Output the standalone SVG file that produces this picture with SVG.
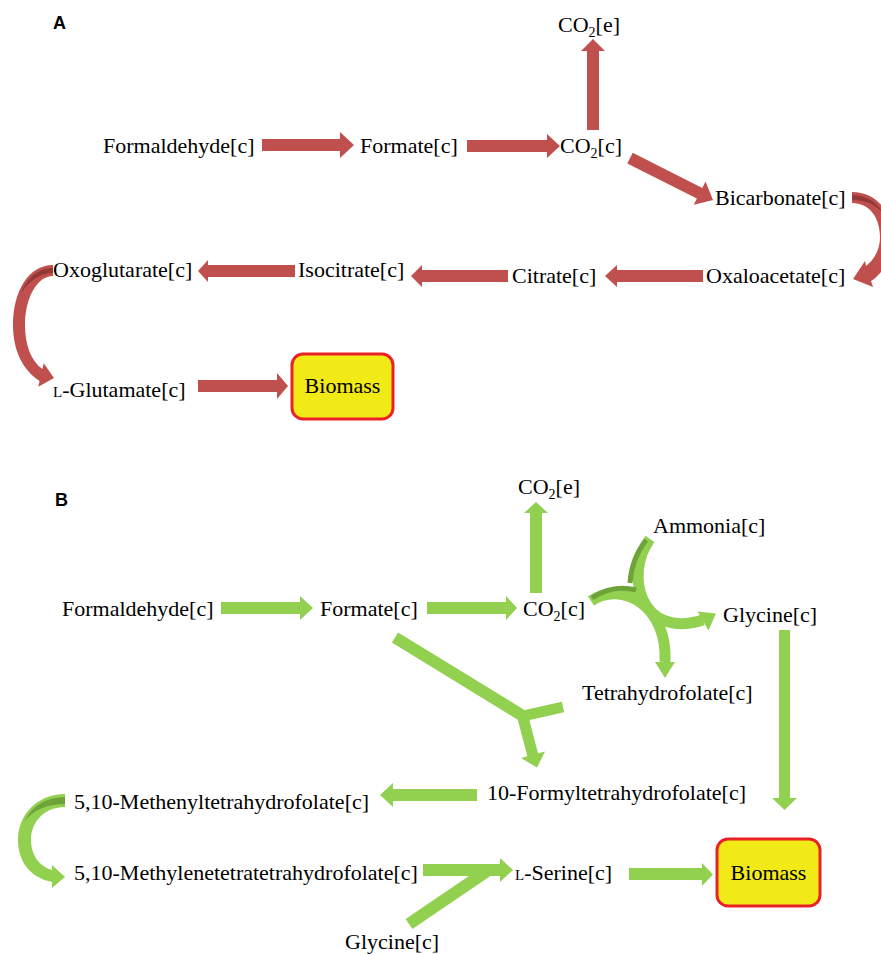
<svg xmlns="http://www.w3.org/2000/svg" width="881" height="954" viewBox="0 0 881 954">
<style>
.t{font-family:"Liberation Serif","Times New Roman",serif;font-size:22px;fill:#000}
.sc{font-size:15px}
.sub{font-size:14px}
.lbl{font-family:"Liberation Sans",Arial,sans-serif;font-size:18px;font-weight:bold;fill:#000}
.ra{fill:#c0504d}
.rd{fill:#933a37}
.ga{fill:#92d050}
.gd{fill:#6ea33a}
.gs{fill:none;stroke:#92d050;stroke-width:12}
.gsd{fill:none;stroke:#6ea33a;stroke-width:5}
.box{fill:#f2ea17;stroke:#ea2227;stroke-width:3}
</style>
<rect width="881" height="954" fill="#fff"/>
<text class="lbl" x="53" y="29">A</text>
<text class="lbl" x="55" y="506">B</text>

<g id="connectors">
  <!-- Panel A -->
  <path class="ra" d="M262,139 H340 V132 L354,145 L340,158 V151 H262 Z"/>
  <path class="ra" d="M467,140 H547 V134 L560,146 L547,158 V152 H467 Z"/>
  <path class="ra" d="M587,130 V51 H581 L593,39 L605,51 H599 V130 Z"/>
  <path class="ra" d="M632.7,152.7 L702.3,187.9 L705.5,181.6 L713,200 L693.7,204.8 L696.9,198.6 L627.3,163.4 Z"/>
  <path class="ra" d="M852,192 C877,192 892,212 892,237 C892,259 883,273 871,281 L873,287 L853,279 L865,261 L866,266 C875,259 880,249 880,237 C880,217 869,203 852,203 Z"/>
  <path class="rd" d="M852,195 C866,195 877,202 884,214 C876,205 865,200 852,200 Z"/>
  <path class="ra" d="M703,270 H617 V265 L605,276 L617,287 V282 H703 Z"/>
  <path class="ra" d="M508,270 H422 V265 L411,276 L422,287 V282 H508 Z"/>
  <path class="ra" d="M295,265 H208 V260 L198,271 L208,282 V277 H295 Z"/>
  <path class="ra" d="M53,265 C28,265 13,292 13,325 C13,352 24,371 39.6,381 L38.3,386.7 L54,378 L43.7,363.3 L42.4,369 C31,361 25,345 25,325 C25,298 37,276 53,276 Z"/>
  <path class="rd" d="M53,268 C38,268 27,278 21,293 C29,281 40,273 53,273 Z"/>
  <path class="ra" d="M198,380 H277 V373 L288,386 L277,399 V392 H198 Z"/>

  <!-- Panel B -->
  <path class="ga" d="M221,602 H300 V596 L313,608 L300,620 V614 H221 Z"/>
  <path class="ga" d="M427,602 H506 V596 L517,608 L506,620 V614 H427 Z"/>
  <path class="ga" d="M530,593 V513 H524 L536,502 L548,513 H542 V593 Z"/>
  <path class="gs" style="stroke-width:11" d="M650,539 C624,574 640,640 703,620"/>
  <path class="ga" d="M697.5,611.4 L716,613.5 L708.5,630.6 Z"/>
  <path class="gs" style="stroke-width:11" d="M591,601 C622,580 668,606 665,662"/>
  <path class="ga" d="M655,662 L675,662 L665,678 Z"/>
  <path class="gsd" d="M646,540 C636,553 631,567 630,583"/>
  <path class="gsd" d="M592,598 C605,589 620,586 636,590"/>
  <path class="gs" d="M395,637.5 L523,716"/>
  <path class="gs" style="stroke-width:11" d="M563,707 L523,716"/>
  <path class="gs" style="stroke-width:11" d="M522,714 L533,756"/>
  <circle class="ga" cx="523" cy="716" r="6"/>
  <path class="ga" d="M521,758 L545,751.5 L537,767.5 Z"/>
  <path class="ga" d="M779,630 V798 H772 L784.5,810 L797,798 H790 V630 Z"/>
  <path class="ga" d="M477,789 H393 V783 L380,795 L393,807 V801 H477 Z"/>
  <path class="ga" d="M65,794 C38,794 18,814 18,840 C18,862 31,878 52,882 L52,888 L65,877 L52,865 L52,870 C38,866 31,854 31,840 C31,821 45,807 65,807 Z"/>
  <path class="gd" d="M65,797 C46,797 32,806 24,822 C33,810 47,804 65,804 Z"/>
  <path class="ga" d="M423,864 H500 V858 L513,870 L500,882 V876 H423 Z"/>
  <path class="gs" d="M409,924 L490,869"/>
  <path class="ga" d="M629,868 H702 V863 L713,874.5 L702,886 V880 H629 Z"/>
</g>

<!-- Panel A nodes -->
<g id="a-formaldehyde"><text class="t" x="103" y="153">Formaldehyde[c]</text></g>
<g id="a-formate"><text class="t" x="360" y="153">Formate[c]</text></g>
<g id="a-co2c"><text class="t" x="560" y="153">CO<tspan class="sub" dy="5">2</tspan><tspan dy="-5">[c]</tspan></text></g>
<g id="a-co2e"><text class="t" x="558" y="32">CO<tspan class="sub" dy="5">2</tspan><tspan dy="-5">[e]</tspan></text></g>
<g id="a-bicarbonate"><text class="t" x="715" y="205">Bicarbonate[c]</text></g>
<g id="a-oxaloacetate"><text class="t" x="706" y="283">Oxaloacetate[c]</text></g>
<g id="a-citrate"><text class="t" x="512" y="283">Citrate[c]</text></g>
<g id="a-isocitrate"><text class="t" x="298" y="277">Isocitrate[c]</text></g>
<g id="a-oxoglutarate"><text class="t" x="53" y="277">Oxoglutarate[c]</text></g>
<g id="a-glutamate"><text class="t" x="53" y="397"><tspan class="sc">L</tspan>-Glutamate[c]</text></g>
<g id="a-biomass">
  <rect class="box" x="292" y="354" width="101" height="65" rx="11"/>
  <text class="t" x="342.5" y="393" text-anchor="middle">Biomass</text>
</g>

<!-- Panel B nodes -->
<g id="b-formaldehyde"><text class="t" x="62" y="616">Formaldehyde[c]</text></g>
<g id="b-formate"><text class="t" x="320" y="616">Formate[c]</text></g>
<g id="b-co2c"><text class="t" x="523" y="616">CO<tspan class="sub" dy="5">2</tspan><tspan dy="-5">[c]</tspan></text></g>
<g id="b-co2e"><text class="t" x="518" y="494">CO<tspan class="sub" dy="5">2</tspan><tspan dy="-5">[e]</tspan></text></g>
<g id="b-ammonia"><text class="t" x="653" y="533">Ammonia[c]</text></g>
<g id="b-glycine1"><text class="t" x="723" y="622">Glycine[c]</text></g>
<g id="b-thf"><text class="t" x="582" y="700">Tetrahydrofolate[c]</text></g>
<g id="b-formylthf"><text class="t" x="487" y="800">10-Formyltetrahydrofolate[c]</text></g>
<g id="b-methenylthf"><text class="t" x="74" y="809">5,10-Methenyltetrahydrofolate[c]</text></g>
<g id="b-methylenethf"><text class="t" x="74" y="880">5,10-Methylenetetratetrahydrofolate[c]</text></g>
<g id="b-glycine2"><text class="t" x="345" y="949">Glycine[c]</text></g>
<g id="b-serine"><text class="t" x="515" y="880"><tspan class="sc">L</tspan>-Serine[c]</text></g>
<g id="b-biomass">
  <rect class="box" x="717" y="839" width="103" height="67" rx="11"/>
  <text class="t" x="768.5" y="880" text-anchor="middle">Biomass</text>
</g>
</svg>
